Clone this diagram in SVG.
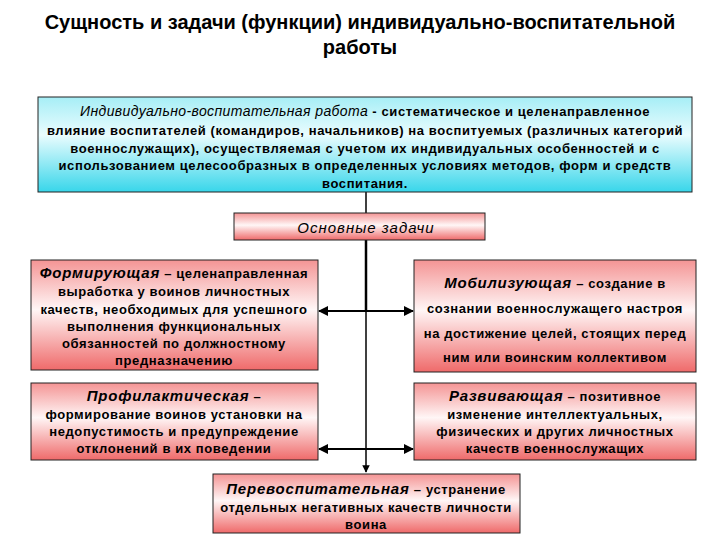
<svg xmlns="http://www.w3.org/2000/svg" width="720" height="540" viewBox="0 0 720 540">
<defs>
<linearGradient id="cy" x1="0" y1="0" x2="0" y2="1">
<stop offset="0" stop-color="#a6eef6"/>
<stop offset="0.4" stop-color="#eafcfe"/>
<stop offset="1" stop-color="#38d6ea"/>
</linearGradient>
<linearGradient id="pk" x1="0" y1="0" x2="0" y2="1">
<stop offset="0" stop-color="#f49494"/>
<stop offset="0.45" stop-color="#fff6f6"/>
<stop offset="1" stop-color="#ef6a6a"/>
</linearGradient>
<marker id="ah" viewBox="0 0 10 10" refX="9" refY="5" markerWidth="5" markerHeight="5" orient="auto-start-reverse">
<path d="M0,0 L10,5 L0,10 z" fill="#000"/>
</marker>
<style>
text{font-family:"Liberation Sans",Arial,sans-serif;fill:#000;text-anchor:middle}
.t{font-size:20px;font-weight:bold}
.b{font-size:13px;font-weight:bold;letter-spacing:0.6px}
.i{font-style:italic;font-weight:bold;font-size:15px;letter-spacing:0.8px}
.bx{stroke:#222;stroke-width:1}
.ln{stroke:#000;fill:none}
</style>
</defs>
<rect width="720" height="540" fill="#fff"/>
<g id="title">
<text class="t" x="360" y="29">Сущность и задачи (функции) индивидуально-воспитательной</text>
<text class="t" x="360" y="54">работы</text>
</g>
<g id="connectors">
<line class="ln" x1="366" y1="192" x2="366" y2="213" stroke-width="1.5"/>
<line class="ln" x1="366" y1="240" x2="366" y2="311" stroke-width="2.5"/>
<line class="ln" x1="366" y1="311" x2="366" y2="472" stroke-width="1.5" marker-end="url(#ah)"/>
<line class="ln" x1="319" y1="311" x2="413" y2="311" stroke-width="2" marker-start="url(#ah)" marker-end="url(#ah)"/>
<line class="ln" x1="319" y1="449" x2="413" y2="449" stroke-width="2" marker-start="url(#ah)" marker-end="url(#ah)"/>
</g>
<g id="definition">
<rect class="bx" x="38" y="97" width="654" height="95" fill="url(#cy)"/>
<text class="b" x="365" y="116"><tspan style="font-size:14px;font-style:italic;font-weight:normal;letter-spacing:0.4px">Индивидуально-воспитательная работа</tspan> - систематическое и целенаправленное</text>
<text class="b" x="365" y="135">влияние воспитателей (командиров, начальников) на воспитуемых (различных категорий</text>
<text class="b" x="365" y="153">военнослужащих), осуществляемая с учетом их индивидуальных особенностей и с</text>
<text class="b" x="365" y="170">использованием целесообразных в определенных условиях методов, форм и средств</text>
<text class="b" x="365" y="188">воспитания.</text>
</g>
<g id="main-tasks">
<rect class="bx" x="234" y="213" width="251" height="27" fill="url(#pk)"/>
<text x="366" y="233" style="font-size:15px;font-style:italic;letter-spacing:1px">Основные задачи</text>
</g>
<g id="forming">
<rect class="bx" x="31" y="260" width="287" height="110" fill="url(#pk)"/>
<text class="b" x="174" y="278"><tspan class="i">Формирующая</tspan> – целенаправленная</text>
<text class="b" x="174" y="296">выработка у воинов личностных</text>
<text class="b" x="174" y="314">качеств, необходимых для успешного</text>
<text class="b" x="174" y="331">выполнения функциональных</text>
<text class="b" x="174" y="348">обязанностей по должностному</text>
<text class="b" x="174" y="365">предназначению</text>
</g>
<g id="mobilizing">
<rect class="bx" x="414" y="260" width="282" height="112" fill="url(#pk)"/>
<text class="b" x="555" y="288"><tspan class="i">Мобилизующая</tspan> – создание в</text>
<text class="b" x="555" y="313">сознании военнослужащего настроя</text>
<text class="b" x="555" y="338">на достижение целей, стоящих перед</text>
<text class="b" x="555" y="362">ним или воинским коллективом</text>
</g>
<g id="preventive">
<rect class="bx" x="31" y="383" width="287" height="77" fill="url(#pk)"/>
<text class="b" x="174" y="401"><tspan class="i">Профилактическая</tspan> –</text>
<text class="b" x="174" y="419">формирование воинов установки на</text>
<text class="b" x="174" y="436">недопустимость и предупреждение</text>
<text class="b" x="174" y="453">отклонений в их поведении</text>
</g>
<g id="developing">
<rect class="bx" x="414" y="383" width="282" height="77" fill="url(#pk)"/>
<text class="b" x="555" y="401"><tspan class="i">Развивающая</tspan> – позитивное</text>
<text class="b" x="555" y="419">изменение интеллектуальных,</text>
<text class="b" x="555" y="436">физических и других личностных</text>
<text class="b" x="555" y="453">качеств военнослужащих</text>
</g>
<g id="reeducating">
<rect class="bx" x="213" y="474" width="307" height="59" fill="url(#pk)"/>
<text class="b" x="366" y="494"><tspan class="i">Перевоспитательная</tspan> – устранение</text>
<text class="b" x="366" y="512">отдельных негативных качеств личности</text>
<text class="b" x="366" y="529">воина</text>
</g>
</svg>
